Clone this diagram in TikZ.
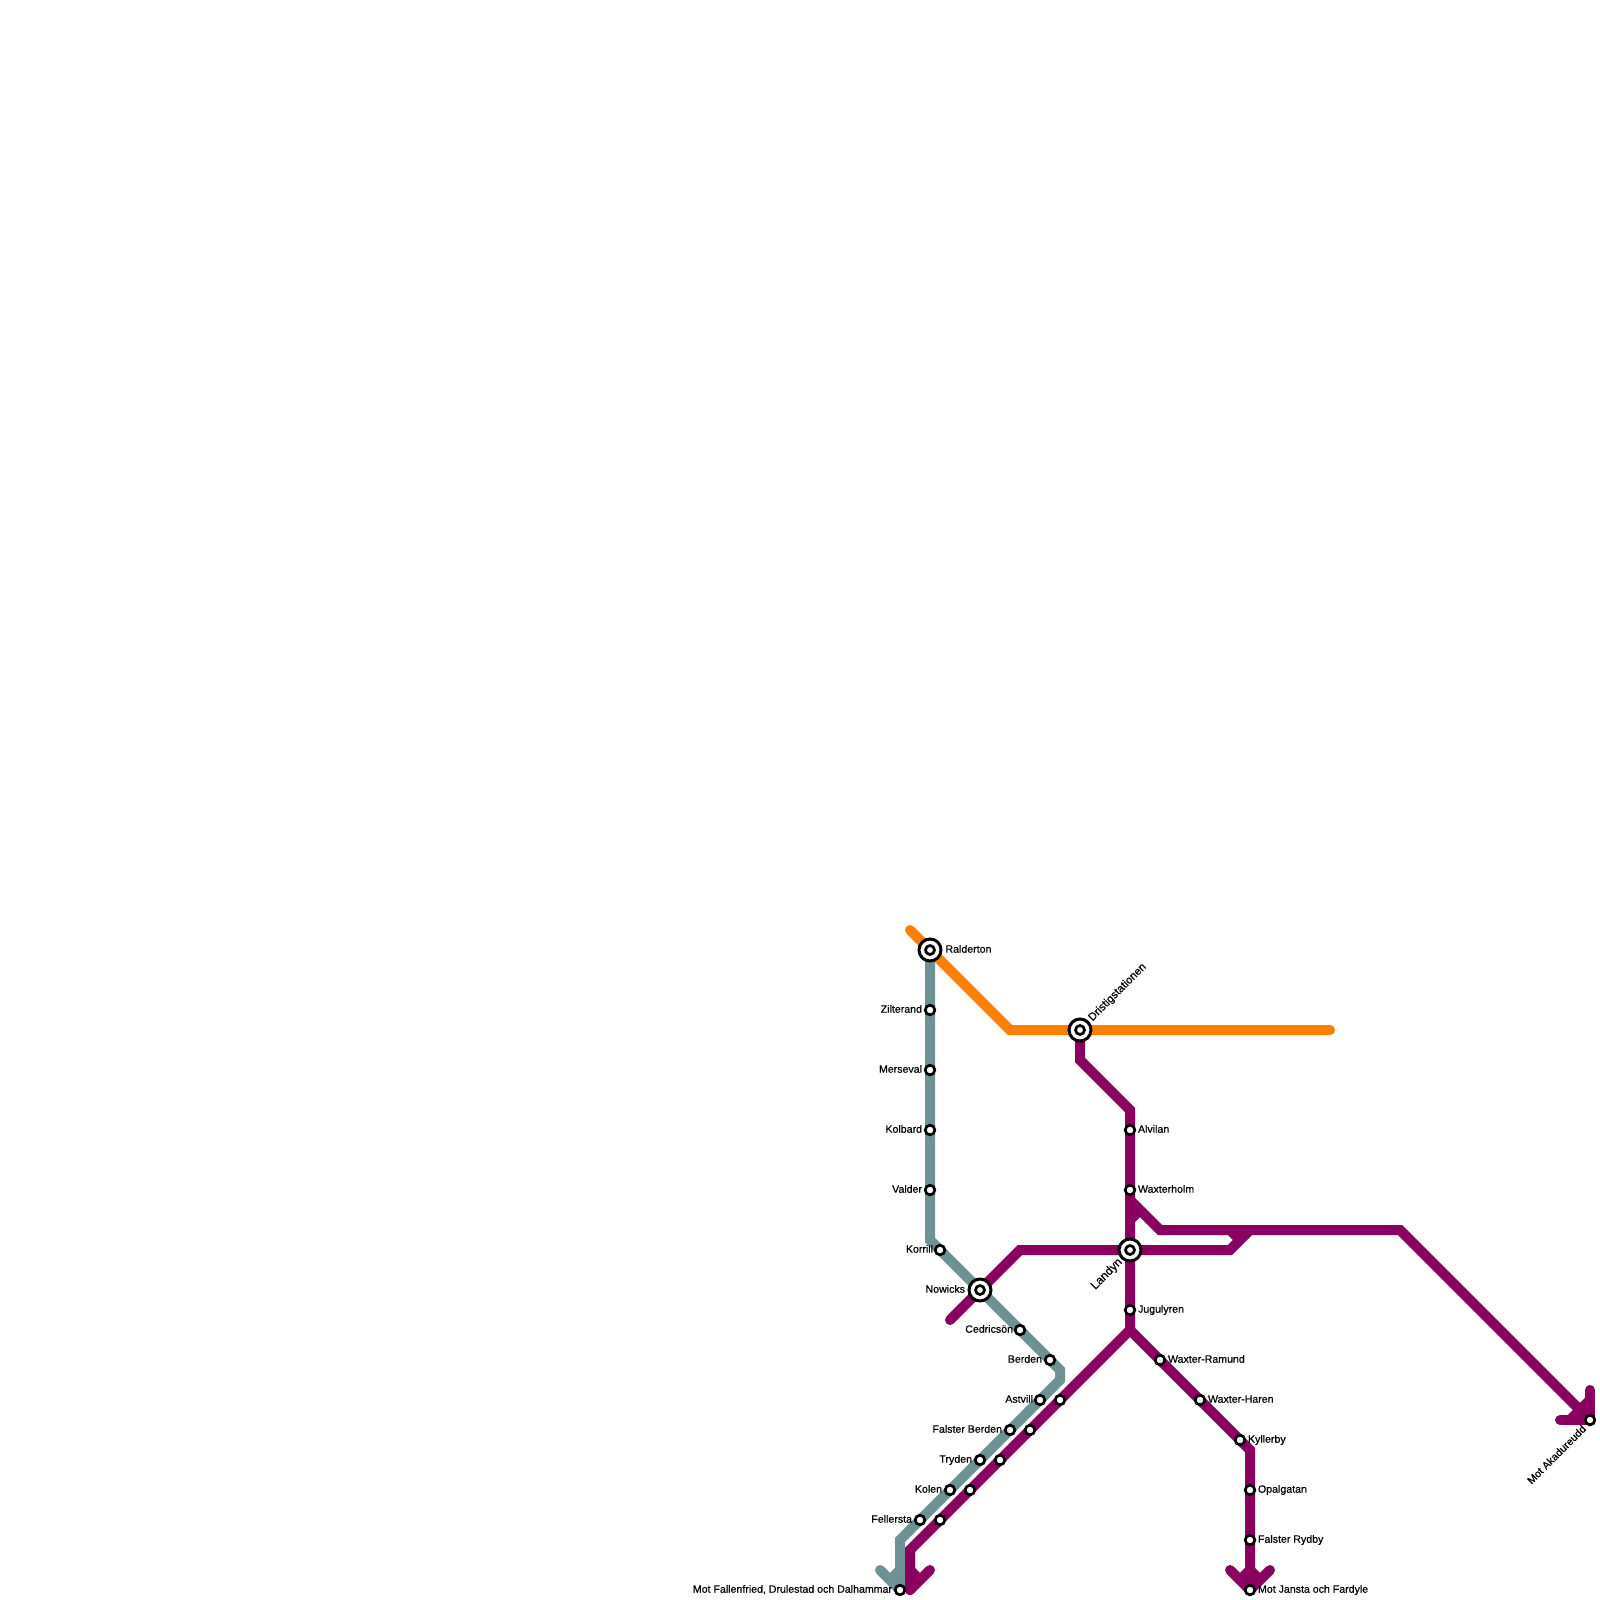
\documentclass[tikz,border=0pt]{standalone}
\usepackage{fontspec}
\setmainfont[FakeBold=0.55]{Liberation Sans}
\definecolor{tealline}{RGB}{108,146,150}
\definecolor{plumline}{RGB}{138,0,96}
\definecolor{orangeline}{RGB}{255,128,0}
\tikzset{
  metro/.style={line width=10pt,line cap=round,line join=miter,miter limit=10},
  arrowtip/.style={metro,line join=round},
  filler/.style={metro,line cap=butt},
  smallst/.style={circle,draw=black,fill=white,line width=2.7pt,minimum size=9.6pt,inner sep=0pt,outer sep=0pt},
  bigst/.style={circle,draw=black,fill=white,line width=3pt,minimum size=22pt,inner sep=0pt,outer sep=0pt},
  bigcore/.style={circle,draw=black,fill=white,line width=2.7pt,minimum size=9pt,inner sep=0pt,outer sep=0pt},
  lbl/.style={font=\fontsize{10.6}{12}\selectfont,inner sep=0pt,outer sep=0pt,text=black},
  lblr/.style={lbl,anchor=base west},
  lbll/.style={lbl,anchor=base east},
}
\begin{document}
\begin{tikzpicture}[x=1pt,y=-1pt]
\useasboundingbox (0,0) rectangle (1600,1600);
% bends and termini
\coordinate (oA) at (910,930);
\coordinate (oB) at (1010,1030);
\coordinate (oC) at (1330,1030);
\coordinate (tA) at (930,950);
\coordinate (tB) at (930,1240);
\coordinate (tC) at (1060,1370);
\coordinate (tD) at (1060,1380);
\coordinate (tE) at (900,1540);
\coordinate (tF) at (900,1590);
\coordinate (tArm) at (880,1570);
\coordinate (tFillA) at (890,1580);
\coordinate (tFillB) at (900,1570);
\coordinate (pA) at (1080,1030);
\coordinate (pB) at (1080,1060);
\coordinate (pC) at (1130,1110);
\coordinate (pD) at (1130,1330);
\coordinate (pE) at (910,1550);
\coordinate (pF) at (910,1590);
\coordinate (pFArm) at (930,1570);
\coordinate (pFillA) at (910,1570);
\coordinate (pFillB) at (920,1580);
\coordinate (pG) at (1250,1450);
\coordinate (pH) at (1250,1590);
\coordinate (pHArmL) at (1230,1570);
\coordinate (pHArmR) at (1270,1570);
\coordinate (hFillA) at (1240,1580);
\coordinate (hFillB) at (1250,1570);
\coordinate (hFillC) at (1260,1580);
\coordinate (qA) at (950,1320);
\coordinate (qB) at (1020,1250);
\coordinate (qC) at (1230,1250);
\coordinate (qD) at (1250,1230);
\coordinate (qStub) at (1240,1240);
\coordinate (qStubEnd) at (1230,1230);
\coordinate (rA) at (1130,1200);
\coordinate (rB) at (1160,1230);
\coordinate (rC) at (1400,1230);
\coordinate (rD) at (1590,1420);
\coordinate (rArmL) at (1560,1420);
\coordinate (rArmU) at (1590,1390);
\coordinate (rFillA) at (1570,1420);
\coordinate (rFillB) at (1590,1400);
\coordinate (rStubA) at (1130,1220);
\coordinate (rStubB) at (1140,1210);
% lines
\draw[metro,orangeline] (oA) -- (oB) -- (oC);
\draw[metro,tealline] (tA) -- (tB) -- (tC) -- (tD) -- (tE) -- (tF);
\draw[arrowtip,tealline] (tArm) -- (tF);
\draw[filler,tealline] (tFillA) -- (tFillB);
\draw[metro,plumline] (pA) -- (pB) -- (pC) -- (pD) -- (pE) -- (pF);
\draw[arrowtip,plumline] (pE) -- (pF) -- (pFArm);
\draw[filler,plumline] (pFillA) -- (pFillB);
\draw[metro,plumline] (pD) -- (pG) -- (pH);
\draw[arrowtip,plumline] (pHArmL) -- (pH) -- (pHArmR);
\draw[filler,plumline] (hFillA) -- (hFillB) -- (hFillC);
\draw[metro,plumline] (qA) -- (qB) -- (qC) -- (qD);
\draw[filler,plumline] (qStub) -- (qStubEnd);
\draw[metro,plumline] (rA) -- (rB) -- (rC) -- (rD);
\draw[arrowtip,plumline] (rArmL) -- (rD) -- (rArmU);
\draw[filler,plumline] (rFillA) -- (rFillB);
\draw[filler,plumline] (rStubA) -- (rStubB);
% interchange stations
\node[bigst] (ralderton) at (tA) {}; \node[bigcore] (ralderton2) at (tA) {};
\node[bigst] (dristig) at (pA) {}; \node[bigcore] (dristig2) at (pA) {};
\node[bigst] (landyn) at (1130,1250) {}; \node[bigcore] (landyn2) at (1130,1250) {};
\node[bigst] (nowicks) at (980,1290) {}; \node[bigcore] (nowicks2) at (980,1290) {};
% stations
\node[smallst] (zilterand) at (930,1010) {};
\node[smallst] (merseval) at (930,1070) {};
\node[smallst] (kolbard) at (930,1130) {};
\node[smallst] (valder) at (930,1190) {};
\node[smallst] (korrill) at (940,1250) {};
\node[smallst] (cedricson) at (1020,1330) {};
\node[smallst] (berden) at (1050,1360) {};
\node[smallst] (astvill) at (1040,1400) {};
\node[smallst] (falsterb) at (1010,1430) {};
\node[smallst] (tryden) at (980,1460) {};
\node[smallst] (kolen) at (950,1490) {};
\node[smallst] (fellersta) at (920,1520) {};
\node[smallst] (motfallen) at (tF) {};
\node[smallst] (u1) at (1060,1400) {};
\node[smallst] (u2) at (1030,1430) {};
\node[smallst] (u3) at (1000,1460) {};
\node[smallst] (u4) at (970,1490) {};
\node[smallst] (u5) at (940,1520) {};
\node[smallst] (alvilan) at (1130,1130) {};
\node[smallst] (waxterholm) at (1130,1190) {};
\node[smallst] (jugulyren) at (1130,1310) {};
\node[smallst] (ramund) at (1160,1360) {};
\node[smallst] (haren) at (1200,1400) {};
\node[smallst] (kyllerby) at (1240,1440) {};
\node[smallst] (opalgatan) at (1250,1490) {};
\node[smallst] (falsterr) at (1250,1540) {};
\node[smallst] (jansta) at (pH) {};
\node[smallst] (akadur) at (rD) {};
% labels
\node[lblr] (lRalderton) at (945.5,952.7) {Ralderton};
\node[lbl,anchor=west,rotate=45,font=\fontsize{11.1}{12}\selectfont] (lDristig) at (1090.5,1019.5) {Dristigstationen};
\node[lbl,anchor=east,rotate=45,font=\fontsize{11.8}{12}\selectfont] (lLandyn) at (1120.5,1260.5) {Landyn};
\node[lbll] (lNowicks) at (965,1292.7) {Nowicks};
\node[lbll] (lZilterand) at (922,1012.7) {Zilterand};
\node[lbll] (lMerseval) at (922,1072.7) {Merseval};
\node[lbll] (lKolbard) at (922,1132.7) {Kolbard};
\node[lbll] (lValder) at (922,1192.7) {Valder};
\node[lbll] (lKorrill) at (933,1252.7) {Korrill};
\node[lbll] (lCedricson) at (1013,1332.7) {Cedricsön};
\node[lbll] (lBerden) at (1042,1362.7) {Berden};
\node[lbll] (lAstvill) at (1033,1402.7) {Astvill};
\node[lbll] (lFalsterB) at (1002,1432.7) {Falster Berden};
\node[lbll] (lTryden) at (972,1462.7) {Tryden};
\node[lbll] (lKolen) at (942,1492.7) {Kolen};
\node[lbll] (lFellersta) at (912,1522.7) {Fellersta};
\node[lbll] (lMotFallen) at (892,1592.7) {Mot Fallenfried, Drulestad och Dalhammar};
\node[lblr] (lAlvilan) at (1138,1132.7) {Alvilan};
\node[lblr] (lWaxterholm) at (1138,1192.7) {Waxterholm};
\node[lblr] (lJugulyren) at (1138,1312.7) {Jugulyren};
\node[lblr] (lRamund) at (1168,1362.7) {Waxter-Ramund};
\node[lblr] (lHaren) at (1208,1402.7) {Waxter-Haren};
\node[lblr] (lKyllerby) at (1248,1442.7) {Kyllerby};
\node[lblr] (lOpalgatan) at (1258,1492.7) {Opalgatan};
\node[lblr] (lFalsterR) at (1258,1542.7) {Falster Rydby};
\node[lblr] (lJansta) at (1258,1592.7) {Mot Jansta och Fardyle};
\node[lbl,anchor=east,rotate=45] (lAkadur) at (1584,1427) {Mot Akadureudd};
\end{tikzpicture}
\end{document}
